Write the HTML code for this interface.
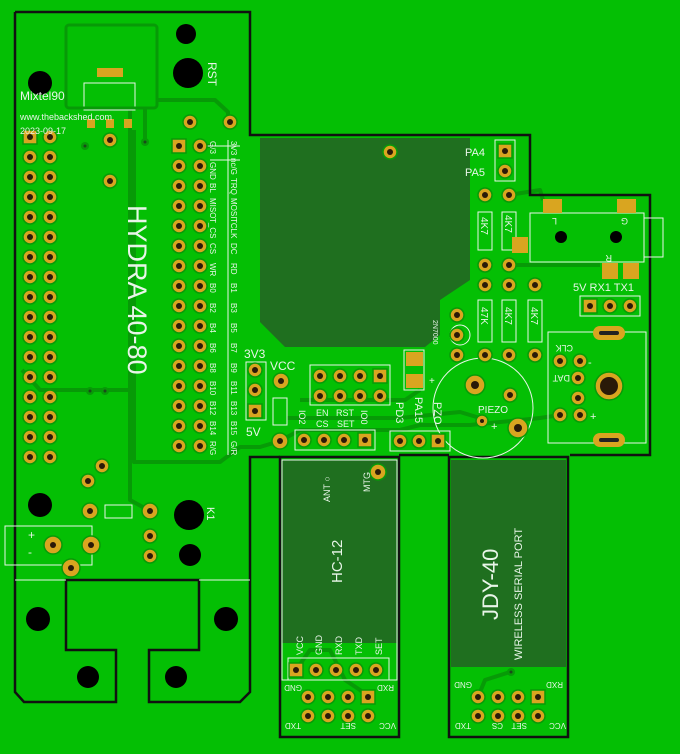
<!DOCTYPE html>
<html><head><meta charset="utf-8"><style>
html,body{margin:0;padding:0;background:#04bf04;}
svg{display:block}
text{font-family:"Liberation Sans",sans-serif;fill:#e8f5e8}
</style></head><body>
<svg id="s" width="680" height="754" viewBox="0 0 680 754" xmlns="http://www.w3.org/2000/svg">
<rect width="680" height="754" fill="#04bf04"/>
<!-- dark copper areas -->
<polygon points="260,138 470,138 470,280 440,300 440,335 425,347 285,347 260,322" fill="#1f6f1f"/>
<rect x="282" y="460" width="115" height="183" fill="#1f6f1f"/>
<rect x="451" y="460" width="115" height="207" fill="#1f6f1f"/>
<!-- traces -->
<g fill="none" stroke="#079a07" stroke-width="4" stroke-linejoin="round">
<path d="M157,100 L215,100 L228,112 L228,122"/>
<path d="M130,108 L130,500 L150,511"/>
<path d="M134,130 L134,462 L220,462 L240,447 L260,447 L280,441"/>
<path d="M145,142 L145,108"/>
<path d="M200,146 L214,146"/>
<path d="M22,370 L40,390 L128,390"/>
<path d="M280,441 L300,430 L400,430 L420,425 L470,425 L540,418 L560,415"/>
<path d="M287,418 L400,418 L460,412 L480,418"/>
<path d="M509,265 L600,265"/>
<path d="M509,195 L540,190 L543,200"/>
<path d="M420,390 L405,400 L300,400"/>
<path d="M296,670 L310,650 L330,650 L345,680 L360,690 L368,697"/>
<path d="M478,697 L485,680 L510,672"/>
</g>
<!-- board outline -->
<g fill="none" stroke="#111" stroke-width="2.5">
<path d="M15,12 L250,12 L250,135 L530,135 L530,195 L650,195 L650,455 L570,455"/>
<path d="M15,12 L15,692 L24,702 L116,702 L116,650 L66,650 L66,580 L199,580 L199,650 L149,650 L149,702 L240,702 L250,692 L250,457 L280,457"/>
<path d="M399,455 L449,455"/>
<rect x="280" y="457" width="119" height="280"/>
<rect x="449" y="457" width="119" height="280"/>
</g>
<!-- silkscreen -->
<g fill="none" stroke="#e8f5e8" stroke-width="1">
<line x1="15" y1="580" x2="66" y2="580"/><line x1="199" y1="580" x2="250" y2="580"/>
<rect x="84" y="83" width="51" height="27"/>
<rect x="246" y="362" width="20" height="58"/>
<rect x="273" y="398" width="14" height="27"/>
<rect x="310" y="365" width="80" height="40"/>
<rect x="295" y="430" width="80" height="20"/>
<rect x="390" y="431" width="60" height="20"/>
<rect x="404" y="350" width="20" height="40"/>
<circle cx="460" cy="335" r="10"/>
<rect x="495" y="140" width="20" height="41"/>
<rect x="478" y="212" width="14" height="38"/><rect x="502" y="212" width="14" height="38"/>
<rect x="478" y="300" width="14" height="42"/><rect x="502" y="300" width="14" height="42"/><rect x="528" y="300" width="14" height="42"/>
<rect x="530" y="213" width="114" height="49"/><rect x="644" y="218" width="19" height="39"/>
<rect x="580" y="296" width="60" height="20"/>
<rect x="548" y="332" width="98" height="111"/>
<circle cx="483" cy="408" r="50"/>
<rect x="282" y="460" width="115" height="220"/>
<rect x="288" y="658" width="101" height="22"/>
<rect x="5" y="526" width="87" height="39"/>
<rect x="105" y="505" width="27" height="13"/>
<line x1="200" y1="146" x2="240" y2="146"/>
<line x1="228" y1="140" x2="228" y2="455"/>
<line x1="210" y1="160" x2="240" y2="160"/>
</g>
<!-- dark box -->
<rect x="66" y="25" width="91" height="83" rx="3" fill="none" stroke="#079a07" stroke-width="3"/>
<!-- smd pads -->
<g fill="#d9a520">
<rect x="97" y="68" width="26" height="9"/>
<rect x="87" y="119" width="8" height="9"/><rect x="106" y="119" width="8" height="9"/><rect x="124" y="119" width="8" height="9"/>
<rect x="406" y="352" width="17" height="14"/><rect x="406" y="374" width="17" height="14"/>
<rect x="543" y="199" width="19" height="14"/><rect x="617" y="199" width="19" height="14"/>
<rect x="512" y="237" width="16" height="16"/>
<rect x="602" y="263" width="16" height="16"/><rect x="623" y="263" width="16" height="16"/>
<rect x="593" y="326" width="32" height="14" rx="7"/><rect x="593" y="433" width="32" height="14" rx="7"/>
</g>
<g fill="#222"><rect x="599" y="331" width="20" height="4" rx="2"/><rect x="599" y="438" width="20" height="4" rx="2"/></g>
<!-- mounting holes -->
<g fill="#000">
<circle cx="186" cy="34" r="10"/><circle cx="188" cy="73" r="15"/><circle cx="40" cy="83" r="12"/>
<circle cx="40" cy="505" r="12"/><circle cx="189" cy="515" r="15"/><circle cx="190" cy="555" r="11"/>
<circle cx="38" cy="619" r="12"/><circle cx="226" cy="619" r="12"/><circle cx="88" cy="677" r="11"/><circle cx="176" cy="677" r="11"/>
<circle cx="561" cy="237" r="6"/><circle cx="616" cy="237" r="6"/>
</g>
<g id="pads"></g>
<!-- text -->
<text x="20" y="100" font-size="12">Mixtel90</text>
<text x="20" y="120" font-size="9">www.thebackshed.com</text>
<text x="20" y="134" font-size="9">2023-09-17</text>
<text transform="translate(208,62) rotate(90)" font-size="12">RST</text>
<text transform="translate(128,205) rotate(90)" font-size="27">HYDRA 40-80</text>
<g font-size="8">
<text transform="translate(210,141) rotate(90)">G/3</text><text transform="translate(210,162) rotate(90)">GND</text><text transform="translate(210,183) rotate(90)">BL</text><text transform="translate(210,198) rotate(90)">MISO</text><text transform="translate(210,218) rotate(90)">T_CS</text><text transform="translate(210,243) rotate(90)">CS</text><text transform="translate(210,263) rotate(90)">WR</text><text transform="translate(210,283) rotate(90)">B0</text><text transform="translate(210,303) rotate(90)">B2</text><text transform="translate(210,323) rotate(90)">B4</text><text transform="translate(210,343) rotate(90)">B6</text><text transform="translate(210,363) rotate(90)">B8</text><text transform="translate(210,381) rotate(90)">B10</text><text transform="translate(210,401) rotate(90)">B12</text><text transform="translate(210,421) rotate(90)">B14</text><text transform="translate(210,441) rotate(90)">R/G</text>
<text transform="translate(231,141) rotate(90)">3V3</text><text transform="translate(231,158) rotate(90)">nc/G</text><text transform="translate(231,178) rotate(90)">TRQ</text><text transform="translate(231,198) rotate(90)">MOSI</text><text transform="translate(231,218) rotate(90)">TCLK</text><text transform="translate(231,243) rotate(90)">DC</text><text transform="translate(231,263) rotate(90)">RD</text><text transform="translate(231,283) rotate(90)">B1</text><text transform="translate(231,303) rotate(90)">B3</text><text transform="translate(231,323) rotate(90)">B5</text><text transform="translate(231,343) rotate(90)">B7</text><text transform="translate(231,363) rotate(90)">B9</text><text transform="translate(231,381) rotate(90)">B11</text><text transform="translate(231,401) rotate(90)">B13</text><text transform="translate(231,421) rotate(90)">B15</text><text transform="translate(231,441) rotate(90)">G/R</text>
</g>
<text x="244" y="358" font-size="12">3V3</text>
<text x="270" y="370" font-size="12">VCC</text>
<text x="246" y="436" font-size="12">5V</text>
<text x="316" y="416" font-size="9">EN</text><text x="336" y="416" font-size="9">RST</text>
<text x="316" y="427" font-size="9">CS</text><text x="337" y="427" font-size="9">SET</text>
<text transform="translate(299,410) rotate(90)" font-size="9">IO2</text>
<text transform="translate(361,410) rotate(90)" font-size="9">IO0</text>
<text transform="translate(396,402) rotate(90)" font-size="11">PD3</text>
<text transform="translate(415,397) rotate(90)" font-size="11">PA15</text>
<text transform="translate(434,402) rotate(90)" font-size="11">PZO</text>
<text x="429" y="384" font-size="10">+</text>
<text transform="translate(433,320) rotate(90)" font-size="7">2N7000</text>
<text x="465" y="156" font-size="11">PA4</text><text x="465" y="176" font-size="11">PA5</text>
<g font-size="10">
<text transform="translate(481,217) rotate(90)">4K7</text><text transform="translate(505,215) rotate(90)">4K7</text>
<text transform="translate(481,307) rotate(90)">47K</text><text transform="translate(505,307) rotate(90)">4K7</text><text transform="translate(531,307) rotate(90)">4K7</text>
</g>
<g font-size="9"><text transform="translate(557,218) rotate(180)">L</text><text transform="translate(628,218) rotate(180)">G</text><text transform="translate(612,255) rotate(180)">R</text>
<text transform="translate(573,345) rotate(180)">CLK</text><text transform="translate(570,375) rotate(180)">DAT</text></g>
<text x="588" y="366" font-size="11">-</text><text x="590" y="420" font-size="11">+</text>
<text x="573" y="291" font-size="11">5V RX1 TX1</text>
<text x="478" y="413" font-size="10">PIEZO</text><text x="491" y="430" font-size="11">+</text>
<text x="28" y="539" font-size="12">+</text><text x="28" y="556" font-size="12">-</text>
<text transform="translate(207,507) rotate(90)" font-size="11">K1</text>
<text transform="translate(330,502) rotate(-90)" font-size="9">ANT ○</text>
<text transform="translate(370,492) rotate(-90)" font-size="9">MTG</text>
<text transform="translate(342,583) rotate(-90)" font-size="15">HC-12</text>
<g font-size="9"><text transform="translate(303,655) rotate(-90)">VCC</text><text transform="translate(322,655) rotate(-90)">GND</text><text transform="translate(342,655) rotate(-90)">RXD</text><text transform="translate(362,655) rotate(-90)">TXD</text><text transform="translate(382,655) rotate(-90)">SET</text></g>
<g font-size="8">
<text transform="translate(302,685) rotate(180)">GND</text><text transform="translate(394,685) rotate(180)">RXD</text>
<text transform="translate(301,723) rotate(180)">TXD</text><text transform="translate(356,723) rotate(180)">SET</text><text transform="translate(396,723) rotate(180)">VCC</text>
<text transform="translate(472,682) rotate(180)">GND</text><text transform="translate(563,682) rotate(180)">RXD</text>
<text transform="translate(471,723) rotate(180)">TXD</text><text transform="translate(503,723) rotate(180)">CS</text><text transform="translate(527,723) rotate(180)">SET</text><text transform="translate(566,723) rotate(180)">VCC</text>
</g>
<text transform="translate(498,620) rotate(-90)" font-size="22">JDY-40</text>
<text transform="translate(522,660) rotate(-90)" font-size="11">WIRELESS SERIAL PORT</text>
</svg>
<script>
var g=document.getElementById('pads'),ns='http://www.w3.org/2000/svg';
function pad(x,y,sq,r,h){r=r||7;h=h||3;
 var e;if(sq){e=document.createElementNS(ns,'rect');e.setAttribute('x',x-r);e.setAttribute('y',y-r);e.setAttribute('width',2*r);e.setAttribute('height',2*r);}
 else{e=document.createElementNS(ns,'circle');e.setAttribute('cx',x);e.setAttribute('cy',y);e.setAttribute('r',r);}
 e.setAttribute('fill','#d9a520');e.setAttribute('stroke','#079a07');e.setAttribute('stroke-width','1.5');g.appendChild(e);
 var c=document.createElementNS(ns,'circle');c.setAttribute('cx',x);c.setAttribute('cy',y);c.setAttribute('r',h);c.setAttribute('fill','#2a1a08');g.appendChild(c);}
function via(x,y){var c=document.createElementNS(ns,'circle');c.setAttribute('cx',x);c.setAttribute('cy',y);c.setAttribute('r',4);c.setAttribute('fill','#079a07');g.appendChild(c);
 c=document.createElementNS(ns,'circle');c.setAttribute('cx',x);c.setAttribute('cy',y);c.setAttribute('r',1.5);c.setAttribute('fill','#1a4a1a');g.appendChild(c);}
for(var i=0;i<17;i++){pad(30,137+i*20,i==0);pad(50,137+i*20);}
for(i=0;i<16;i++){pad(179,146+i*20,i==0);pad(200,146+i*20);}
pad(110,140);pad(110,181);via(85,146);via(145,142);via(90,391);via(105,391);
pad(190,122);pad(230,122);pad(390,152);
pad(255,370);pad(255,390);pad(255,411,1);pad(281,381,0,8);pad(280,441,0,8);
[320,340,360].forEach(function(x){pad(x,376);pad(x,396);});pad(380,376,1);pad(380,396);
pad(304,440);pad(324,440);pad(344,440);pad(365,440,1);
pad(400,441);pad(419,441);pad(438,441,1);
pad(457,315);pad(457,335);pad(457,355);
pad(505,151,1);pad(505,171);
pad(485,195);pad(509,195);pad(485,265);pad(509,265);
pad(485,285);pad(509,285);pad(535,285);pad(485,355);pad(509,355);pad(535,355);
pad(590,306,1);pad(610,306);pad(630,306);
pad(560,361);pad(580,361);pad(578,378);pad(578,398);pad(560,415);pad(580,415);
pad(609,386,0,14,9);
pad(475,385,0,10,4);pad(510,395);pad(482,421,0,6,2);pad(518,428,0,10,4);
pad(296,670,1);pad(316,670);pad(336,670);pad(356,670);pad(376,670);
pad(308,697);pad(328,697);pad(348,697);pad(368,697,1);pad(308,716);pad(328,716);pad(348,716);pad(368,716);
pad(478,697);pad(498,697);pad(518,697);pad(538,697,1);pad(478,716);pad(498,716);pad(518,716);pad(538,716);
via(511,672);pad(378,472,0,8);
pad(102,466);pad(88,481);pad(90,511,0,8);pad(150,511,0,8);pad(150,536);pad(150,556);
pad(53,545,0,9);pad(91,545,0,9);pad(71,568,0,9);
</script>
</body></html>
